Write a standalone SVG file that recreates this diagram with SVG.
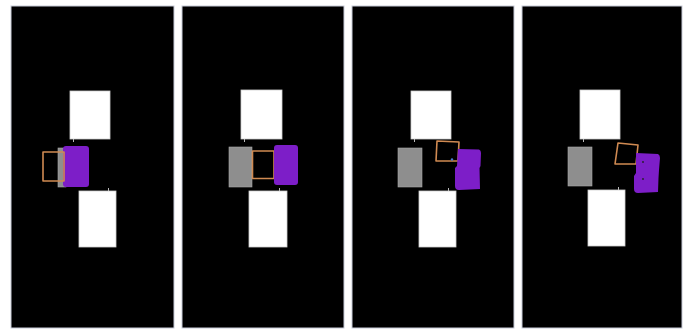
<svg xmlns="http://www.w3.org/2000/svg" width="688" height="329" viewBox="0 0 688 329">
<style>
.panel{fill:#000;stroke:#c8cbd8;stroke-width:1}
.white{fill:#fff;stroke:#d0d0d0;stroke-width:0.8}
.gray{fill:#8e8e8e;stroke:#a8a8a8;stroke-width:0.6}
.purple{fill:#7d1ec8}
.orange{fill:none;stroke:#d08a52;stroke-width:1.6;stroke-linejoin:round}
.tick{stroke:#bbb;stroke-width:1}
</style>
<rect width="688" height="329" fill="#fff"/>
<g id="panel1">
<rect class="panel" x="11" y="6" width="163" height="322"/>
<rect class="white" x="70" y="91" width="40" height="48"/>
<line class="tick" x1="73.5" y1="139" x2="73.5" y2="142"/>
<rect class="gray" x="58" y="148" width="8" height="39"/>
<rect class="purple" x="63" y="146" width="26" height="41" rx="3"/>
<rect class="orange" x="43" y="152" width="21" height="29"/>
<rect class="white" x="79" y="191" width="37" height="56"/>
<line class="tick" x1="108.5" y1="188" x2="108.5" y2="191"/>
</g>
<g id="panel2">
<rect class="panel" x="182" y="6" width="162" height="322"/>
<rect class="white" x="241" y="90" width="41" height="49"/>
<line class="tick" x1="244.5" y1="139" x2="244.5" y2="142"/>
<rect class="gray" x="229" y="147" width="23" height="40"/>
<rect class="orange" x="252.5" y="151" width="21.5" height="27.5"/>
<rect class="purple" x="274" y="145" width="24" height="40" rx="3"/>
<rect class="white" x="249" y="191" width="38" height="56"/>
<line class="tick" x1="279.5" y1="188" x2="279.5" y2="191"/>
</g>
<g id="panel3">
<rect class="panel" x="352" y="6" width="162" height="322"/>
<rect class="white" x="411" y="91" width="40" height="48"/>
<line class="tick" x1="414.5" y1="139" x2="414.5" y2="142"/>
<rect class="gray" x="398" y="148" width="24" height="39"/>
<path class="orange" d="M437 141 L459 142 L458 161 L436 161 Z"/>
<circle cx="452" cy="159.5" r="1.2" fill="#4a7ad0"/>
<path class="purple" d="M458 149 L479 149.5 Q481 150 481 153 L480.5 166 L479.5 168 L480 189 L459 190 Q455 190 455 186 L455 168 L457 166 Z"/>
<rect class="white" x="419" y="191" width="37" height="56"/>
<line class="tick" x1="448.5" y1="188" x2="448.5" y2="191"/>
</g>
<g id="panel4">
<rect class="panel" x="522" y="6" width="160" height="322"/>
<rect class="white" x="580" y="90" width="40" height="49"/>
<line class="tick" x1="583.5" y1="139" x2="583.5" y2="142"/>
<rect class="gray" x="568" y="147" width="24" height="39"/>
<path class="orange" d="M618 143 L638 145 L636 164 L615 164 Z"/>
<path class="purple" d="M636 153 L658 154 Q660 155 660 158 L659 170 L658.5 178 L658 192 L638 193 Q634 193 634 189 L634 176 L636 173 Z"/>
<circle cx="643" cy="162" r="0.9" fill="#222"/>
<circle cx="643" cy="179" r="0.9" fill="#222"/>
<rect class="white" x="588" y="190" width="37" height="56"/>
<line class="tick" x1="618.5" y1="187" x2="618.5" y2="190"/>
</g>
</svg>
